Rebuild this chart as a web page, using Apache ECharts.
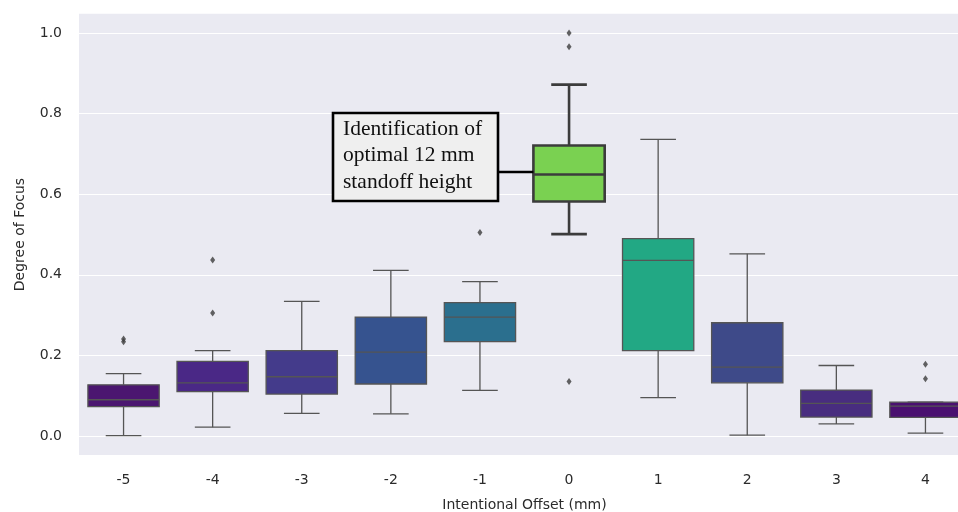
<!DOCTYPE html>
<html>
<head>
<meta charset="utf-8">
<script src="https://cdn.jsdelivr.net/npm/echarts@6/dist/echarts.min.js"></script>
<style>
html, body { margin: 0; padding: 0; background: #fff; overflow: hidden; }
#main { width: 958px; height: 512px; }
</style>
</head>
<body>
<div id="main"></div>
<script>
var categories = ['-5', '-4', '-3', '-2', '-1', '0', '1', '2', '3', '4'];
var whiskerLow  = [0.001, 0.022, 0.056, 0.055, 0.113, 0.501, 0.095, 0.002, 0.030, 0.007];
var q1          = [0.073, 0.110, 0.104, 0.129, 0.234, 0.582, 0.212, 0.132, 0.047, 0.046];
var median      = [0.090, 0.132, 0.147, 0.208, 0.295, 0.649, 0.436, 0.171, 0.081, 0.074];
var q3          = [0.127, 0.185, 0.212, 0.295, 0.331, 0.721, 0.490, 0.281, 0.114, 0.084];
var whiskerHigh = [0.155, 0.212, 0.334, 0.411, 0.383, 0.872, 0.736, 0.452, 0.175, 0.084];
var outliers = [
    ['-5', 0.241], ['-5', 0.234],
    ['-4', 0.437], ['-4', 0.305],
    ['-1', 0.505],
    ['0', 1.0], ['0', 0.966], ['0', 0.135],
    ['4', 0.178], ['4', 0.142]
];
var yTicks = [0, 0.2, 0.4, 0.6, 0.8, 1.0];
var highlightCat = '0';
var annotationLines = ['Identification of', 'optimal 12 mm', 'standoff height'];

// viridis-like colours per box
var boxColors = ['#4b1670', '#4a2886', '#443b8b', '#36538f', '#2b6f8e',
                 '#7ad151', '#22a884', '#3e4a89', '#482d7f', '#4a1070'];

var boxData = categories.map(function (c, i) {
    return [c, whiskerLow[i], q1[i], median[i], q3[i], whiskerHigh[i]];
});

var chart = echarts.init(document.getElementById('main'));

function renderBox(params, api) {
    var i = params.dataIndex;
    var cat = api.value(0);
    var band = api.size([1, 0])[0];
    var half = band * 0.4, capHalf = band * 0.2;
    var pMin = api.coord([cat, api.value(1)]);
    var pQ1 = api.coord([cat, api.value(2)]);
    var pMed = api.coord([cat, api.value(3)]);
    var pQ3 = api.coord([cat, api.value(4)]);
    var pMax = api.coord([cat, api.value(5)]);
    var x = pMed[0];
    var hl = categories[i] === highlightCat;
    var ls = { stroke: hl ? '#3c3c3c' : '#555555', lineWidth: hl ? 2.6 : 1.3, fill: null };
    return {
        type: 'group',
        children: [
            { type: 'line', shape: { x1: x, y1: pQ3[1], x2: x, y2: pMax[1] }, style: ls },
            { type: 'line', shape: { x1: x, y1: pQ1[1], x2: x, y2: pMin[1] }, style: ls },
            { type: 'line', shape: { x1: x - capHalf, y1: pMax[1], x2: x + capHalf, y2: pMax[1] }, style: ls },
            { type: 'line', shape: { x1: x - capHalf, y1: pMin[1], x2: x + capHalf, y2: pMin[1] }, style: ls },
            { type: 'rect', shape: { x: x - half, y: pQ3[1], width: half * 2, height: pQ1[1] - pQ3[1] },
              style: { fill: boxColors[i], stroke: ls.stroke, lineWidth: ls.lineWidth } },
            { type: 'line', shape: { x1: x - half, y1: pMed[1], x2: x + half, y2: pMed[1] }, style: ls }
        ]
    };
}

var textColor = '#2b2b2b';

chart.setOption({
    backgroundColor: '#ffffff',
    animation: false,
    // plot is wider than the canvas, last category is cut off at the right edge
    grid: { left: 79, width: 891, top: 33, height: 403, outerBoundsMode: 'none', containLabel: false },
    xAxis: {
        type: 'category',
        data: categories,
        offset: 19,
        axisLine: { show: false },
        axisTick: { show: false },
        axisLabel: { color: textColor, fontSize: 14, margin: 18, fontFamily: 'DejaVu Sans' },
        splitLine: { show: false },
        name: 'Intentional Offset (mm)',
        nameLocation: 'middle',
        nameGap: 43,
        nameTextStyle: { color: textColor, fontSize: 14, fontFamily: 'DejaVu Sans' }
    },
    yAxis: {
        type: 'value',
        min: yTicks[0],
        max: yTicks[yTicks.length - 1],
        interval: 0.2,
        axisLine: { show: false },
        axisTick: { show: false },
        axisLabel: {
            color: textColor, fontSize: 14, margin: 17, fontFamily: 'DejaVu Sans',
            formatter: function (v) { return v.toFixed(1); }
        },
        splitLine: { show: true, lineStyle: { color: '#ffffff', width: 1.2 } },
        name: 'Degree of Focus',
        nameLocation: 'middle',
        nameGap: 52,
        nameTextStyle: { color: textColor, fontSize: 14, fontFamily: 'DejaVu Sans' }
    },
    series: [
        {
            type: 'custom',
            renderItem: renderBox,
            encode: { x: 0, y: [1, 2, 3, 4, 5] },
            data: boxData,
            clip: false,
            z: 3
        },
        {
            type: 'scatter',
            data: outliers,
            symbol: 'diamond',
            symbolSize: [5, 7],
            itemStyle: { color: '#3c3c3c' },
            clip: false,
            z: 4
        }
    ]
});

// background panel and annotation, placed after layout
var yTopPx = chart.convertToPixel({ yAxisIndex: 0 }, 1.048);
var yBotPx = chart.convertToPixel({ yAxisIndex: 0 }, -0.047);
var hiX = chart.convertToPixel({ xAxisIndex: 0 }, highlightCat);
var band = chart.getModel().getComponent('xAxis', 0).axis.getBandWidth();
var connY = chart.convertToPixel({ yAxisIndex: 0 }, 0.655);
var boxLeft = hiX - band * 0.4;

chart.setOption({
    graphic: [
        {
            type: 'rect', z: -100, silent: true,
            shape: { x: 79, y: yTopPx, width: 958 - 79, height: yBotPx - yTopPx },
            style: { fill: '#eaeaf2' }
        },
        {
            type: 'line', z: 10,
            shape: { x1: 498, y1: connY, x2: boxLeft, y2: connY },
            style: { stroke: '#000000', lineWidth: 2.5 }
        },
        {
            type: 'rect', z: 11,
            shape: { x: 333, y: 113, width: 165, height: 88 },
            style: { fill: '#efefef', stroke: '#000000', lineWidth: 2.6 }
        },
        {
            type: 'text', z: 12,
            x: 343, y: 116,
            style: {
                text: annotationLines.join('\n'),
                fill: '#111111',
                font: '21.5px "Liberation Serif"',
                lineHeight: 26.5,
                verticalAlign: 'top'
            }
        }
    ]
});
</script>
</body>
</html>
